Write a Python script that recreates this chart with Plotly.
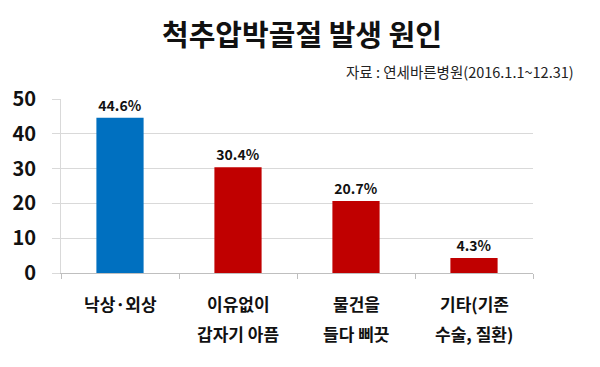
import plotly.graph_objects as go

categories = ["낙상·외상", "이유없이 갑자기 아픔", "물건을 들다 삐끗", "기타(기존 수술, 질환)"]
label_line1 = ["낙상·외상", "이유없이", "물건을", "기타(기존"]
label_line2 = ["", "갑자기 아픔", "들다 삐끗", "수술, 질환)"]
values = [44.6, 30.4, 20.7, 4.3]
bar_colors = ["#0070C0", "#C00000", "#C00000", "#C00000"]
y_ticks = [0, 10, 20, 30, 40, 50]
title_text = "척추압박골절 발생 원인"
source_text = "자료 : 연세바른병원(2016.1.1~12.31)"

FONT = "Noto Sans CJK KR, Noto Sans, sans-serif"
L, R, T, B = 56.5, 67, 99, 94
PW, PH = 600 - L - R, 367 - T - B

fig = go.Figure(go.Bar(
    x=categories, y=values,
    marker=dict(color=bar_colors, line=dict(width=0)),
    text=[f"{v}%" for v in values],
    textposition="outside",
    textfont=dict(family=FONT, size=14, color="#111111", weight="bold"),
    cliponaxis=False,
))

for c, l1, l2 in zip(categories, label_line1, label_line2):
    fig.add_annotation(x=c, y=0, xref="x", yref="y", text=l1, showarrow=False,
                       yshift=-30, font=dict(family=FONT, size=17, color="#111111", weight="bold"))
    if l2:
        fig.add_annotation(x=c, y=0, xref="x", yref="y", text=l2, showarrow=False,
                           yshift=-60, font=dict(family=FONT, size=17, color="#111111", weight="bold"))

fig.add_annotation(text=title_text, xref="paper", yref="paper",
                   x=(300 - L) / PW, y=(367 - B - 33) / PH,
                   showarrow=False, xanchor="center", yanchor="middle",
                   font=dict(family=FONT, size=29, color="#111111", weight="bold"))
fig.add_annotation(text=source_text, xref="paper", yref="paper",
                   x=(576 - L) / PW, y=(367 - B - 71) / PH,
                   showarrow=False, xanchor="right", yanchor="middle",
                   font=dict(family=FONT, size=14.5, color="#222222"))

fig.update_layout(
    width=600, height=367,
    margin=dict(l=L, r=R, t=T, b=B),
    paper_bgcolor="white", plot_bgcolor="white",
    showlegend=False,
    bargap=0.6,
    xaxis=dict(
        type="category", tickson="boundaries", ticks="outside", ticklen=5,
        tickcolor="#bfbfbf", showticklabels=False,
        showline=True, linecolor="#bfbfbf", linewidth=1, showgrid=False,
    ),
    yaxis=dict(
        range=[0, 50], tickvals=y_ticks, ticks="outside", ticklen=8,
        tickcolor="#d9d9d9", showgrid=True, gridcolor="#d9d9d9", gridwidth=1,
        showline=True, linecolor="#d9d9d9", zeroline=False,
        tickfont=dict(family=FONT, size=20, color="#111111", weight="bold"),
        ticklabelstandoff=12,
    ),
)

fig.write_html("out.html", config={"displayModeBar": False},
               post_script="document.body.style.margin='0';")
